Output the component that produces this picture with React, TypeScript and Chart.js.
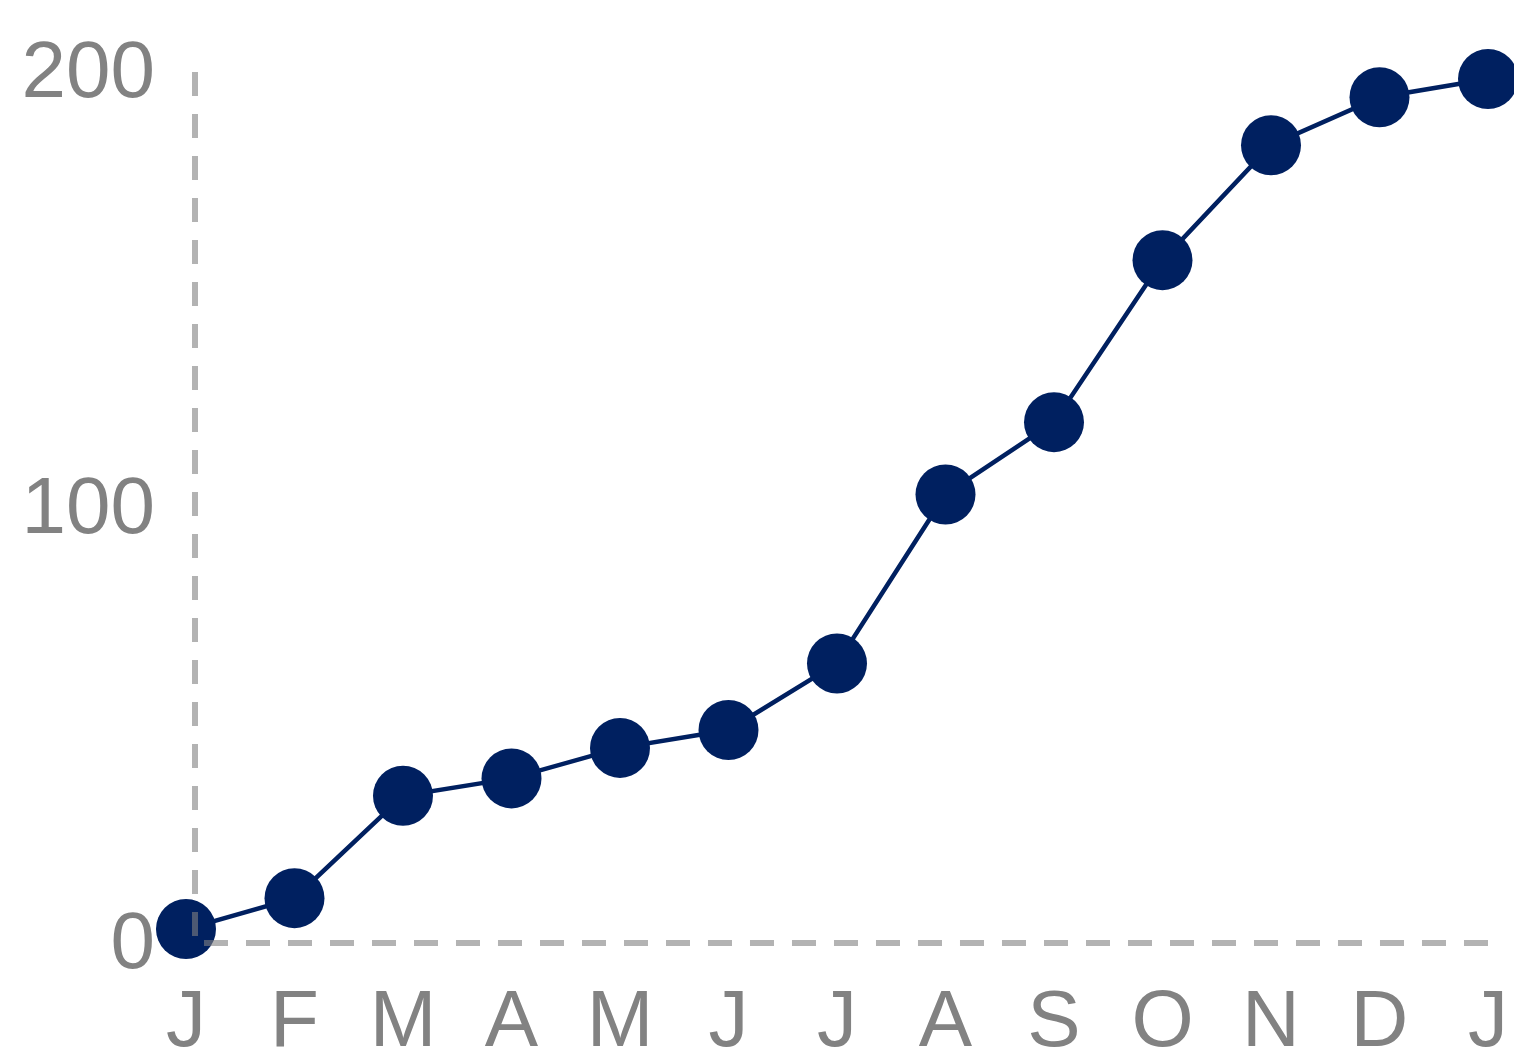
import React, { useEffect, useRef } from "react";
import { Chart, registerables } from "chart.js";

Chart.register(...registerables);

const MONTH_LABELS = ["J", "F", "M", "A", "M", "J", "J", "A", "S", "O", "N", "D", "J"];
const SERIES_VALUES = [3.2, 10.3, 33.8, 37.8, 44.8, 48.9, 64.2, 103.0, 119.6, 156.8, 183.2, 194.2, 198.4];
const Y_TICKS = [0, 100, 200];

const X_MIN = 0.083;
const NAVY = "#002060";
const TEXT_GRAY = "#828282";
const GRID_GRAY = "rgba(128,128,128,0.6)";
const FONT = "'Liberation Sans', Arial, sans-serif";

const W = 1514;
const H = 1080;
const Y_AXIS_WIDTH = 195;
const X_AXIS_HEIGHT = 137;

export default function App() {
  const canvasRef = useRef<HTMLCanvasElement | null>(null);

  useEffect(() => {
    const canvas = canvasRef.current;
    if (!canvas) return;
    const chart = new Chart(canvas, {
      type: "line",
      data: {
        datasets: [
          {
            data: SERIES_VALUES.map((v, i) => ({ x: i, y: v })),
            borderColor: NAVY,
            backgroundColor: NAVY,
            borderWidth: 4.5,
            pointRadius: 30,
            pointBorderWidth: 0,
            pointBackgroundColor: NAVY,
            tension: 0,
            clip: false as any,
          },
        ],
      },
      options: {
        animation: false,
        responsive: false,
        events: [],
        layout: { autoPadding: false, padding: { left: 0, top: 72, right: 26, bottom: 0 } },
        plugins: { legend: { display: false }, tooltip: { enabled: false } },
        scales: {
          x: {
            type: "linear",
            min: X_MIN,
            max: MONTH_LABELS.length - 1,
            bounds: "data",
            afterBuildTicks: (scale: any) => {
              scale.ticks = [{ value: X_MIN }, ...MONTH_LABELS.map((_, i) => ({ value: i }))];
            },
            afterFit: (scale: any) => {
              scale.height = X_AXIS_HEIGHT;
              scale.paddingLeft = 0;
              scale.paddingRight = 0;
            },
            ticks: {
              autoSkip: false,
              maxRotation: 0,
              padding: 33,
              color: TEXT_GRAY,
              font: { family: FONT, size: 80, lineHeight: 1.2 },
              callback: (value: any) => {
                const i = Number(value);
                return Number.isInteger(i) ? MONTH_LABELS[i] : "";
              },
            },
            grid: {
              z: 1,
              drawTicks: false,
              color: GRID_GRAY,
              lineWidth: (ctx: any) => (ctx.tick && ctx.tick.value === X_MIN ? 6 : 0),
            },
            border: { display: false, dash: [24, 18], dashOffset: 0 },
          },
          y: {
            type: "linear",
            min: Y_TICKS[0],
            max: Y_TICKS[Y_TICKS.length - 1],
            afterBuildTicks: (scale: any) => {
              scale.ticks = Y_TICKS.map((v) => ({ value: v }));
            },
            afterFit: (scale: any) => {
              scale.width = Y_AXIS_WIDTH;
              scale.paddingTop = 0;
              scale.paddingBottom = 0;
            },
            ticks: {
              padding: 40,
              labelOffset: 3,
              color: TEXT_GRAY,
              font: { family: FONT, size: 80, lineHeight: 1.2 },
              callback: (value: any) => String(value),
            },
            grid: {
              z: 1,
              drawTicks: false,
              color: GRID_GRAY,
              lineWidth: (ctx: any) => (ctx.tick && ctx.tick.value === 0 ? 6 : 0),
            },
            border: { display: false, dash: [24, 18], dashOffset: 33 },
          },
        },
      },
    });
    return () => chart.destroy();
  }, []);

  return (
    <div
      style={{
        position: "fixed",
        left: 0,
        top: 0,
        width: 1514,
        height: 1047,
        overflow: "hidden",
        background: "#ffffff",
      }}
    >
      <canvas ref={canvasRef} width={W} height={H} style={{ display: "block", width: W, height: H }} />
    </div>
  );
}
